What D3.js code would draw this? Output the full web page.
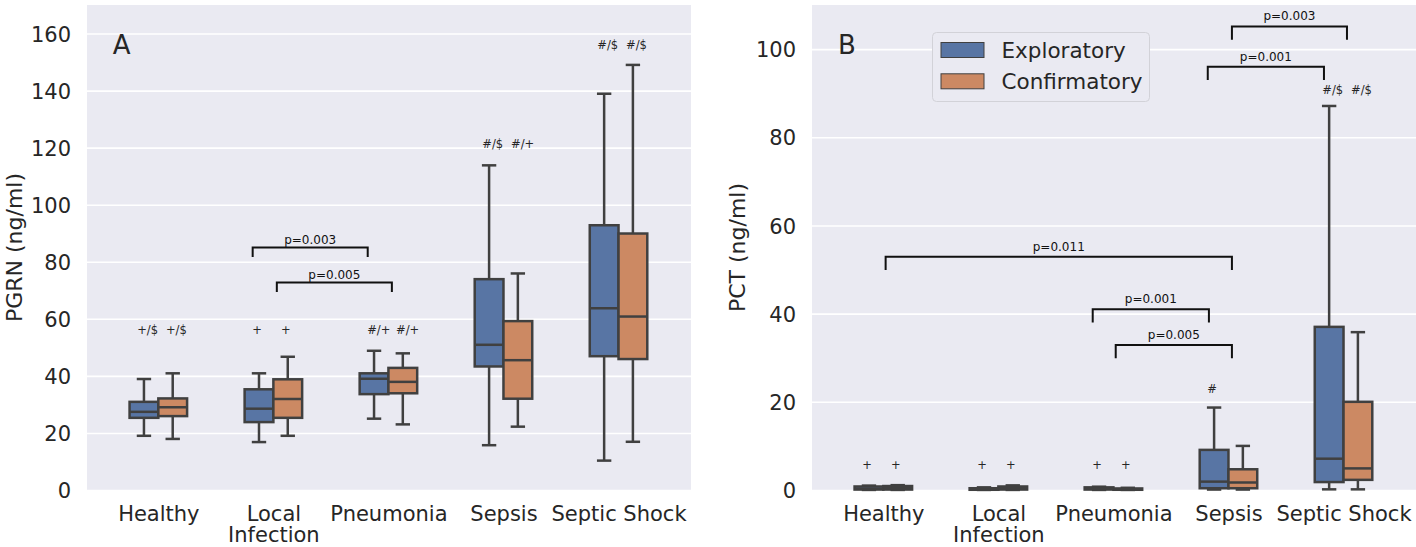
<!DOCTYPE html>
<html>
<head>
<meta charset="utf-8">
<script src="https://cdn.jsdelivr.net/npm/d3@7/dist/d3.min.js"></script>
<style>
  html, body { margin: 0; padding: 0; background: #ffffff; }
  svg { display: block; font-family: "DejaVu Sans", sans-serif; }
</style>
</head>
<body>
<svg id="chart" width="1416" height="547"></svg>
<script>
// ---------------- DATA ----------------
const categories = ["Healthy", "Local\nInfection", "Pneumonia", "Sepsis", "Septic Shock"];
const seriesNames = ["Exploratory", "Confirmatory"];

// box stats: [whisker low, Q1, median, Q3, whisker high]
const pgrnExploratory = [
  [19.0, 25.3, 27.4, 30.9, 38.9],
  [16.8, 23.8, 28.5, 35.3, 40.9],
  [25.0, 33.6, 39.0, 40.9, 48.8],
  [15.7, 43.3, 50.9, 73.9, 113.8],
  [10.3, 46.9, 63.7, 92.8, 138.9]
];
const pgrnConfirmatory = [
  [17.9, 25.9, 29.0, 32.1, 40.9],
  [19.0, 25.3, 31.9, 38.8, 46.7],
  [23.0, 33.9, 37.9, 42.8, 47.9],
  [22.2, 32.0, 45.5, 59.2, 75.9],
  [16.9, 45.9, 60.8, 89.9, 149.0]
];
const pctExploratory = [
  [0.02, 0.10, 0.30, 0.80, 1.00],
  [0.02, 0.05, 0.15, 0.40, 0.60],
  [0.02, 0.10, 0.30, 0.60, 0.75],
  [0.10, 0.40, 1.90, 9.10, 18.7],
  [0.15, 1.80, 7.10, 37.0, 87.1]
];
const pctConfirmatory = [
  [0.02, 0.10, 0.40, 0.90, 1.10],
  [0.02, 0.10, 0.40, 0.80, 1.05],
  [0.02, 0.05, 0.15, 0.35, 0.50],
  [0.10, 0.40, 1.70, 4.70, 10.0],
  [0.15, 2.30, 4.90, 20.0, 35.8]
];

const pgrnTicks = [0, 20, 40, 60, 80, 100, 120, 140, 160];
const pctTicks = [0, 20, 40, 60, 80, 100];

// significance marks per category, [Exploratory, Confirmatory], and their heights (data units)
const pgrnMarks = [["+/$", "+/$"], ["+", "+"], ["#/+", "#/+"], ["#/$", "#/+"], ["#/$", "#/$"]];
const pgrnMarkY = [54.6, 54.6, 54.6, 119.8, 154.7];
const pctMarks = [["+", "+"], ["+", "+"], ["+", "+"], ["#", ""], ["#/$", "#/$"]];
const pctMarkY = [4.8, 4.8, 4.8, 22.0, 89.8];

// brackets: [from (category units), to, height (data units), label]
const pgrnBrackets = [
  [0.82, 1.82, 85.0, "p=0.003"],
  [1.03, 2.03, 72.7, "p=0.005"]
];
const pctBrackets = [
  [0.02, 3.03, 52.9, "p=0.011"],
  [1.82, 2.83, 41.0, "p=0.001"],
  [2.02, 3.03, 32.9, "p=0.005"],
  [2.82, 3.83, 96.0, "p=0.001"],
  [3.03, 4.03, 105.1, "p=0.003"]
];

// ---------------- STYLE / LAYOUT ----------------
const colors = ["#5875a4", "#cc8963"];
const lineColor = "#404040";
const bg = "#eaeaf2";
const textColor = "#262626";

const panels = [
  { letter: "A", ylabel: "PGRN (ng/ml)", left: 87, right: 691, top: 5, bottom: 490, ymax: 170,
    ticks: pgrnTicks, series: [pgrnExploratory, pgrnConfirmatory], marks: pgrnMarks, markY: pgrnMarkY,
    brackets: pgrnBrackets, legDrop: 3.3, ylabelX: 21.5 },
  { letter: "B", ylabel: "PCT (ng/ml)", left: 812, right: 1416, top: 5, bottom: 490, ymax: 110,
    ticks: pctTicks, series: [pctExploratory, pctConfirmatory], marks: pctMarks, markY: pctMarkY,
    brackets: pctBrackets, legDrop: 3.0, ylabelX: 745 }
];

const svg = d3.select("#chart");
const boxW = 0.25;

panels.forEach(p => {
  const x = d3.scaleLinear().domain([-0.62, 4.63]).range([p.left, p.right]);
  const y = d3.scaleLinear().domain([0, p.ymax]).range([p.bottom, p.top]);
  const g = svg.append("g");

  g.append("rect").attr("x", p.left).attr("y", p.top)
    .attr("width", p.right - p.left).attr("height", p.bottom - p.top).attr("fill", bg);

  // grid
  const grid = g.append("g").attr("transform", `translate(${p.left},0)`)
    .call(d3.axisLeft(y).tickValues(p.ticks).tickSize(-(p.right - p.left)).tickFormat(""));
  grid.select(".domain").remove();
  grid.selectAll("line").attr("stroke", "#ffffff").attr("stroke-width", 1.6);

  // y axis labels
  const ya = g.append("g").attr("transform", `translate(${p.left - 16},0)`)
    .call(d3.axisLeft(y).tickValues(p.ticks).tickSize(0).tickPadding(0).tickFormat(d3.format("d")));
  ya.select(".domain").remove();
  ya.selectAll("text").attr("font-size", 21).attr("fill", textColor)
    .attr("font-family", "DejaVu Sans").attr("dy", "0.36em");

  // x axis labels
  const xa = g.append("g").attr("transform", `translate(0,${p.bottom})`)
    .call(d3.axisBottom(x).tickValues(d3.range(categories.length)).tickSize(0).tickFormat(""));
  xa.select(".domain").remove();
  xa.selectAll(".tick").each(function(d) {
    const t = d3.select(this).append("text").attr("fill", textColor)
      .attr("font-size", 21).attr("font-family", "DejaVu Sans")
      .attr("text-anchor", "middle").attr("y", 30.5);
    categories[d].split("\n").forEach((line, i) => {
      t.append("tspan").attr("x", 0).attr("dy", i === 0 ? 0 : 21.5).text(line);
    });
  });

  // y label
  g.append("text").attr("transform", `translate(${p.ylabelX},${(p.top + p.bottom) / 2}) rotate(-90)`)
    .attr("text-anchor", "middle").attr("font-size", 22).attr("fill", textColor).text(p.ylabel);

  // panel letter
  g.append("text").attr("x", x(-0.62) + (p.letter === "A" ? 25.7 : 26)).attr("y", 53.5)
    .attr("font-size", 26).attr("fill", textColor).text(p.letter);

  // boxes
  const plot = g.append("g");
  p.series.forEach((ser, si) => {
    const off = (si === 0 ? -0.5 : 0.5) * boxW;
    ser.forEach((s, ci) => {
      const cx = ci + off;
      const [lo, q1, med, q3, hi] = s;
      const bg2 = plot.append("g");
      bg2.append("line").attr("x1", x(cx)).attr("x2", x(cx)).attr("y1", y(q3)).attr("y2", y(hi))
        .attr("stroke", lineColor).attr("stroke-width", 2.5);
      bg2.append("line").attr("x1", x(cx)).attr("x2", x(cx)).attr("y1", y(q1)).attr("y2", y(lo))
        .attr("stroke", lineColor).attr("stroke-width", 2.5);
      [lo, hi].forEach(v => {
        bg2.append("line").attr("x1", x(cx - boxW / 4)).attr("x2", x(cx + boxW / 4))
          .attr("y1", y(v)).attr("y2", y(v)).attr("stroke", lineColor).attr("stroke-width", 2.5);
      });
      bg2.append("rect").attr("x", x(cx - boxW / 2)).attr("width", x(cx + boxW / 2) - x(cx - boxW / 2))
        .attr("y", y(q3)).attr("height", Math.max(0, y(q1) - y(q3)))
        .attr("fill", colors[si]).attr("stroke", lineColor).attr("stroke-width", 2.5);
      bg2.append("line").attr("x1", x(cx - boxW / 2)).attr("x2", x(cx + boxW / 2))
        .attr("y1", y(med)).attr("y2", y(med)).attr("stroke", lineColor).attr("stroke-width", 2.5);
    });
  });

  // significance marks
  p.marks.forEach((pair, ci) => {
    pair.forEach((m, si) => {
      if (!m) return;
      const cx = ci + (si === 0 ? -0.5 : 0.5) * boxW;
      g.append("text").attr("x", x(cx) - 6.8).attr("y", y(p.markY[ci]))
        .attr("font-size", 11.5).attr("fill", textColor).text(m);
    });
  });

  // brackets
  p.brackets.forEach(([a, b, h, label]) => {
    const path = d3.path();
    path.moveTo(x(a), y(h - p.legDrop));
    path.lineTo(x(a), y(h));
    path.lineTo(x(b), y(h));
    path.lineTo(x(b), y(h - p.legDrop));
    g.append("path").attr("d", path.toString()).attr("fill", "none")
      .attr("stroke", "#111111").attr("stroke-width", 2);
    g.append("text").attr("x", (x(a) + x(b)) / 2).attr("y", y(h + 1.4))
      .attr("text-anchor", "middle").attr("font-size", 12).attr("fill", "#111111").text(label);
  });
});

// legend (in panel B)
const lg = svg.append("g");
lg.append("rect").attr("x", 932.5).attr("y", 32.5).attr("width", 217).attr("height", 69)
  .attr("rx", 4).attr("fill", bg).attr("stroke", "#d2d2d8").attr("stroke-width", 1);
seriesNames.forEach((name, i) => {
  lg.append("rect").attr("x", 941).attr("y", 42.5 + i * 31.3).attr("width", 43).attr("height", 15)
    .attr("fill", colors[i]).attr("stroke", lineColor).attr("stroke-width", 1);
  lg.append("text").attr("x", 1001.5).attr("y", 58 + i * 31.3)
    .attr("font-size", 21.5).attr("fill", textColor).text(name);
});
</script>
</body>
</html>
